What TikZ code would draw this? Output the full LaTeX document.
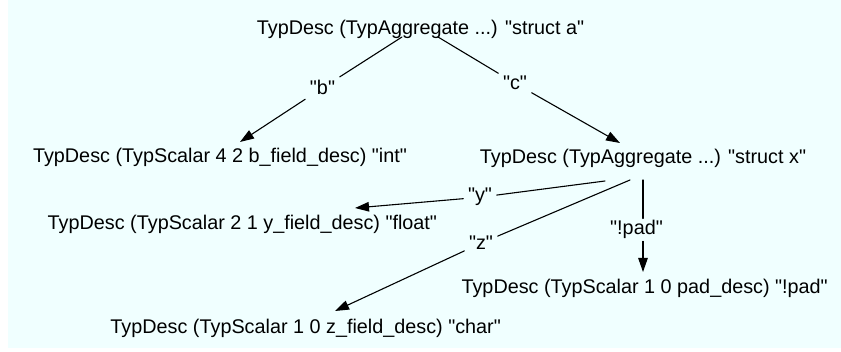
\documentclass[tikz,border=0pt]{standalone}
\usepackage{fontspec}
\setmainfont{Liberation Sans}[Ligatures=TeXOff]
\usetikzlibrary{arrows.meta,calc}
\newcommand{\termfont}{\fontsize{19.8}{24}\selectfont}
\definecolor{canvasbg}{HTML}{F0FFFF}
\tikzset{
  term/.style={anchor=base, inner sep=0pt, font=\termfont},
  lbl/.style={anchor=base, inner xsep=4.5pt, inner ysep=4.5pt, font=\termfont},
  edge/.style={line width=1.1pt, line cap=round},
  arr/.style={edge, -{Triangle[length=14pt,width=9.5pt]}},
}
\begin{document}
\begin{tikzpicture}[x=1pt, y=-1pt]
  \useasboundingbox (0,0) rectangle (841,352);
  \fill[white] (0,0) rectangle (841,352);
  \fill[canvasbg] (8,0) rectangle (841,348);

  % type descriptors
  \node[term] (A)   at (420.5,35)  {TypDesc (TypAggregate ...) "struct a"};
  \node[term] (B)   at (220,163)   {TypDesc (TypScalar 4 2 b\_field\_desc) "int"};
  \node[term] (C)   at (643,164)   {TypDesc (TypAggregate ...) "struct x"};
  \node[term] (Y)   at (242.4,229.5) {TypDesc (TypScalar 2 1 y\_field\_desc) "float"};
  \node[term] (Pad) at (644.7,293.5) {TypDesc (TypScalar 1 0 pad\_desc) "!pad"};
  \node[term] (Z)   at (305.7,333.3) {TypDesc (TypScalar 1 0 z\_field\_desc) "char"};

  % field labels
  \node[lbl] (lb) at (322.5,95) {"b"};
  \node[lbl] (lc) at (515,90)   {"c"};
  \node[lbl] (ly) at (480,202)  {"y"};
  \node[lbl] (lz) at (481,250)  {"z"};
  \node[lbl, inner ysep=2pt] (lp) at (636.5,235) {"!pad"};

  % struct a fields
  \draw[edge] ($(A.base)+(-18.5,2)$) -- (lb);
  \draw[arr]  (lb) -- ($(B.base)+(20,-21)$);
  \draw[edge] ($(A.base)+(17.5,2)$) -- (lc);
  \draw[arr]  (lc) -- ($(C.base)+(-23,-21)$);

  % struct x fields
  \draw[edge] ($(C.base)+(-38,17)$) -- (ly);
  \draw[arr]  (ly) -- ($(Y.base)+(112.6,-21.5)$);
  \draw[edge] ($(C.base)+(-13,16)$) -- (lz);
  \draw[arr]  (lz) -- ($(Z.base)+(29.3,-22.3)$);
  \coordinate (cp) at ($(C.base)+(0,16)$);
  \draw[edge] (cp) -- (cp |- lp.north);
  \draw[arr]  (cp |- lp.south) -- ($(cp |- Pad.base)+(0,-21.5)$);
\end{tikzpicture}
\end{document}
